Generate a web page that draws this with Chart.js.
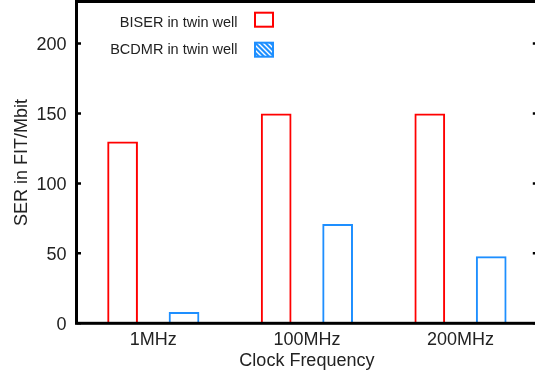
<!DOCTYPE html>
<html>
<head>
<meta charset="utf-8">
<script src="https://cdn.jsdelivr.net/npm/chart.js@4"></script>
<style>
  html, body { margin: 0; padding: 0; background: #fff; }
  #wrap { width: 535px; height: 377px; overflow: hidden; }
  canvas { display: block; }
</style>
</head>
<body>
<div id="wrap"><canvas id="serChart" width="538" height="377"></canvas></div>
<script>
const frequencies = ["1MHz", "100MHz", "200MHz"];
const biserTwinWell = [130, 150, 150];
const bcdmrTwinWell = [8, 71, 48];
const yMax = 230;
const yStep = 50;

Chart.defaults.font.family = "'Liberation Sans', Arial, sans-serif";
Chart.defaults.color = "#222";

// hatched swatch used for the BCDMR key entry
function makeHatch(color) {
    const tile = document.createElement("canvas");
    tile.width = 5;
    tile.height = 5;
    const t = tile.getContext("2d");
    t.fillStyle = color;
    t.fillRect(0, 0, 5, 5);
    t.strokeStyle = "#fff";
    t.lineWidth = 1.4;
    t.beginPath();
    t.moveTo(-1, -1); t.lineTo(6, 6);
    t.moveTo(-1, 4); t.lineTo(1, 6);
    t.moveTo(4, -1); t.lineTo(6, 1);
    t.stroke();
    return t.createPattern(tile, "repeat");
}

// frame, inward tick marks and the key in the upper left
const frameAndKey = {
    id: "frameAndKey",
    afterDraw(chart) {
        const { ctx, chartArea: a, scales } = chart;
        const y = scales.y;
        ctx.save();
        ctx.strokeStyle = "#000";
        ctx.lineWidth = 3;
        ctx.strokeRect(a.left, a.top, a.right - a.left, a.bottom - a.top);

        ctx.lineWidth = 2.5;
        ctx.beginPath();
        y.ticks.forEach((t) => {
            const py = y.getPixelForValue(t.value);
            ctx.moveTo(a.left, py);
            ctx.lineTo(a.left + 4.5, py);
            ctx.moveTo(a.right, py);
            ctx.lineTo(a.right - 4.5, py);
        });
        ctx.stroke();

        const rows = [
            { textY: 23.3, boxY: 12.7 },
            { textY: 50, boxY: 42.7 },
        ];
        ctx.font = "14.5px 'Liberation Sans', Arial, sans-serif";
        ctx.textAlign = "right";
        ctx.textBaseline = "middle";
        chart.data.datasets.forEach((ds, i) => {
            const r = rows[i];
            ctx.fillStyle = "#222";
            ctx.fillText(ds.label, 237.5, r.textY);
            if (ds.hatched) {
                ctx.fillStyle = makeHatch(ds.borderColor);
                ctx.fillRect(255, r.boxY, 18, 14);
            }
            ctx.strokeStyle = ds.borderColor;
            ctx.lineWidth = 2;
            ctx.strokeRect(255, r.boxY, 18, 14);
        });
        ctx.restore();
    },
};

new Chart(document.getElementById("serChart"), {
    type: "bar",
    data: {
        labels: frequencies,
        datasets: [
            {
                label: "BISER in twin well",
                data: biserTwinWell,
                backgroundColor: "rgba(0,0,0,0)",
                borderColor: "#ff0000",
                borderWidth: 2,
                categoryPercentage: 0.8,
                barPercentage: 0.5,
            },
            {
                label: "BCDMR in twin well",
                data: bcdmrTwinWell,
                hatched: true,
                backgroundColor: "rgba(0,0,0,0)",
                borderColor: "#1e8fff",
                borderWidth: 2,
                categoryPercentage: 0.8,
                barPercentage: 0.5,
            },
        ],
    },
    options: {
        responsive: false,
        animation: false,
        layout: { padding: { left: 0, top: 1.5, right: 0.7, bottom: 0 } },
        plugins: {
            legend: { display: false },
            tooltip: { enabled: false },
        },
        scales: {
            x: {
                offset: true,
                grid: { display: false, drawTicks: false },
                border: { display: false },
                ticks: { font: { size: 18 }, padding: 6 },
                title: {
                    display: true,
                    text: "Clock Frequency",
                    font: { size: 18 },
                    padding: { top: 0, bottom: 5 },
                },
                afterFit: (s) => {
                    s.height = 53.7;
                    s.paddingLeft = 0;
                    s.paddingRight = 0;
                },
            },
            y: {
                min: 0,
                max: yMax,
                grid: { display: false, drawTicks: false },
                border: { display: false },
                ticks: { stepSize: yStep, font: { size: 18 }, padding: 10, labelOffset: 1.5 },
                afterBuildTicks: (s) => { s.ticks = s.ticks.filter((t) => t.value <= 200); },
                title: {
                    display: true,
                    text: "SER in FIT/Mbit",
                    font: { size: 18 },
                    padding: { top: 11, bottom: 0 },
                },
                afterFit: (s) => {
                    s.width = 76.5;
                    s.paddingTop = 0;
                    s.paddingBottom = 0;
                },
            },
        },
    },
    plugins: [frameAndKey],
});
</script>
</body>
</html>
